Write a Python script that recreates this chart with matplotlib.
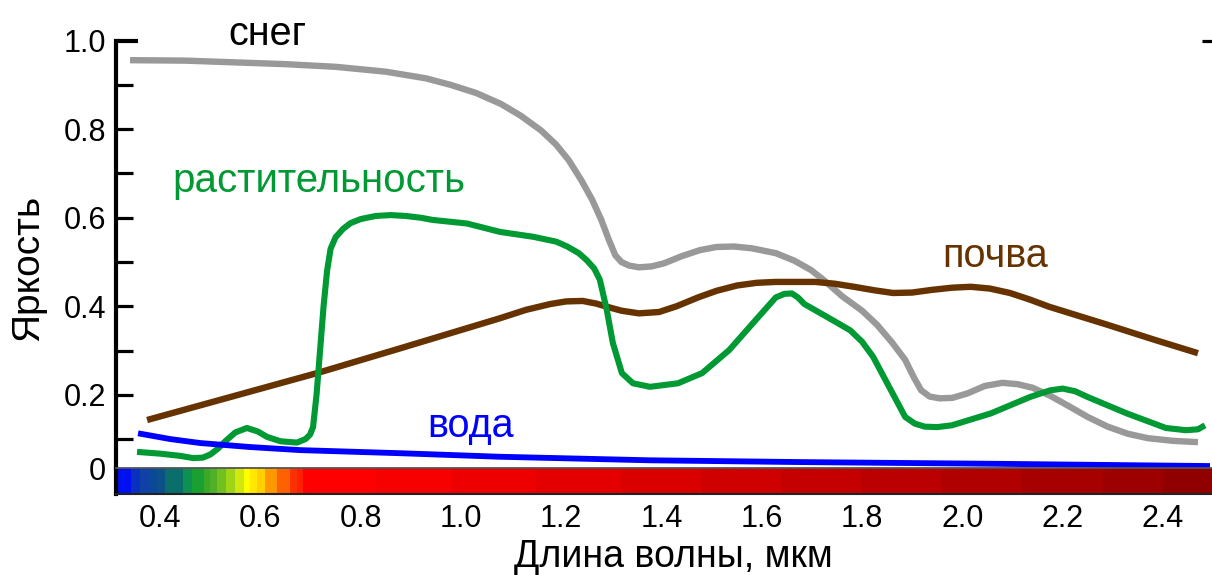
import numpy as np
import matplotlib
matplotlib.use("Agg")
import matplotlib.pyplot as plt
from matplotlib.colors import ListedColormap, BoundaryNorm

plt.rcParams["font.family"] = ["Liberation Sans", "DejaVu Sans"]

# Spectral reflectance curves: wavelength (µm) and reflectance
snow_wl = [0.340, 0.450, 0.550, 0.650, 0.750, 0.850, 0.930, 0.980, 1.030, 1.080,
           1.120, 1.160, 1.190, 1.215, 1.240, 1.262, 1.280, 1.295, 1.308, 1.320,
           1.335, 1.355, 1.380, 1.405, 1.440, 1.477, 1.510, 1.545, 1.580, 1.628,
           1.665, 1.698, 1.725, 1.760, 1.800, 1.830, 1.860, 1.886, 1.903, 1.918,
           1.935, 1.955, 1.980, 2.010, 2.045, 2.080, 2.110, 2.140, 2.175, 2.213,
           2.250, 2.290, 2.330, 2.370, 2.420, 2.470]
snow_refl = [0.956, 0.955, 0.951, 0.947, 0.941, 0.930, 0.915, 0.900, 0.882, 0.857,
             0.830, 0.797, 0.765, 0.730, 0.685, 0.640, 0.595, 0.550, 0.515, 0.500,
             0.492, 0.488, 0.490, 0.497, 0.513, 0.527, 0.534, 0.535, 0.531, 0.520,
             0.503, 0.482, 0.458, 0.423, 0.390, 0.358, 0.318, 0.279, 0.240, 0.210,
             0.196, 0.192, 0.193, 0.203, 0.220, 0.227, 0.224, 0.216, 0.198, 0.174,
             0.150, 0.128, 0.112, 0.102, 0.096, 0.093]

veg_wl = [0.354, 0.400, 0.440, 0.466, 0.485, 0.500, 0.515, 0.530, 0.550, 0.573,
          0.595, 0.613, 0.640, 0.673, 0.690, 0.699, 0.705, 0.712, 0.719, 0.726,
          0.733, 0.740, 0.750, 0.765, 0.780, 0.800, 0.830, 0.860, 0.890, 0.920,
          0.944, 1.012, 1.078, 1.144, 1.190, 1.212, 1.235, 1.251, 1.266, 1.277,
          1.291, 1.303, 1.321, 1.343, 1.377, 1.433, 1.481, 1.535, 1.588, 1.628,
          1.645, 1.660, 1.672, 1.685, 1.730, 1.776, 1.800, 1.822, 1.854, 1.886,
          1.905, 1.925, 1.950, 1.979, 2.057, 2.135, 2.175, 2.200, 2.225, 2.250,
          2.328, 2.406, 2.446, 2.470, 2.484]
veg_refl = [0.071, 0.067, 0.062, 0.057, 0.058, 0.065, 0.078, 0.095, 0.115, 0.125,
            0.117, 0.105, 0.095, 0.092, 0.100, 0.110, 0.127, 0.200, 0.300, 0.400,
            0.480, 0.530, 0.556, 0.575, 0.588, 0.597, 0.604, 0.606, 0.604, 0.600,
            0.595, 0.587, 0.568, 0.557, 0.546, 0.535, 0.520, 0.504, 0.485, 0.460,
            0.391, 0.317, 0.249, 0.226, 0.218, 0.226, 0.249, 0.301, 0.369, 0.420,
            0.428, 0.429, 0.420, 0.405, 0.376, 0.346, 0.320, 0.286, 0.218, 0.150,
            0.135, 0.128, 0.127, 0.131, 0.158, 0.195, 0.210, 0.214, 0.208, 0.195,
            0.158, 0.125, 0.120, 0.122, 0.131]

soil_wl = [0.374, 0.713, 0.879, 1.078, 1.130, 1.178, 1.210, 1.243, 1.270, 1.291,
           1.320, 1.355, 1.395, 1.430, 1.473, 1.510, 1.551, 1.590, 1.628, 1.706,
           1.745, 1.784, 1.825, 1.862, 1.900, 1.939, 1.980, 2.017, 2.055, 2.095,
           2.135, 2.173, 2.290, 2.384, 2.470]
soil_refl = [0.143, 0.249, 0.305, 0.373, 0.392, 0.405, 0.411, 0.412, 0.406, 0.399,
             0.390, 0.384, 0.387, 0.400, 0.420, 0.435, 0.447, 0.453, 0.455, 0.455,
             0.451, 0.444, 0.436, 0.430, 0.431, 0.437, 0.442, 0.444, 0.440, 0.430,
             0.415, 0.399, 0.358, 0.324, 0.294]

water_wl = [0.356, 0.420, 0.480, 0.579, 0.679, 0.879, 1.078, 1.377, 1.676, 2.075, 2.494]
water_refl = [0.113, 0.100, 0.091, 0.082, 0.075, 0.068, 0.060, 0.052, 0.048, 0.044, 0.039]

# Spectrum strip under the plot: band edges (µm) and colours
band_edges = [0.312, 0.342, 0.360, 0.378, 0.394, 0.410, 0.446, 0.464, 0.488, 0.500,
              0.514, 0.532, 0.550, 0.567, 0.579, 0.593, 0.609, 0.633, 0.659, 0.673,
              0.685, 0.830, 0.980, 1.150, 1.320, 1.480, 1.640, 1.800, 1.960, 2.120,
              2.280, 2.400, 2.500]
band_colors = ["#0010F0", "#0A30C0", "#1040A8", "#0A4898", "#0C5088", "#0A6E6A",
               "#109050", "#18A030", "#3CA828", "#50B028", "#70C020", "#A0D418",
               "#D0E810", "#FFFF00", "#FFE800", "#FFD000", "#FF9800", "#FF6000",
               "#FF3000", "#FF2000", "#FF0000", "#F60000", "#EE0000", "#E40000",
               "#DA0000", "#CE0000", "#C40000", "#BA0000", "#B00000", "#A60000",
               "#9C0000", "#900000"]

x_ticks = [0.4, 0.6, 0.8, 1.0, 1.2, 1.4, 1.6, 1.8, 2.0, 2.2, 2.4]
x_tick_labels = ["0.4", "0.6", "0.8", "1.0", "1.2", "1.4", "1.6", "1.8", "2.0", "2.2", "2.4"]
y_ticks = [0.2, 0.4, 0.6, 0.8, 1.0]
y_tick_labels = ["0.2", "0.4", "0.6", "0.8", "1.0"]
y_minor = [0.1, 0.3, 0.5, 0.7, 0.9]

W, H = 1212, 575
X0, X1 = 0.312, 2.498
Y0, Y1 = 0.0346, 1.0

fig = plt.figure(figsize=(W / 100, H / 100), dpi=100)
ax = fig.add_axes([116 / W, 1 - 468 / H, 1096 / W, (468 - 40.7) / H])
axb = fig.add_axes([116 / W, 1 - 494 / H, 1096 / W, 26 / H])

kw = dict(solid_capstyle="butt", solid_joinstyle="round")
ax.plot(snow_wl, snow_refl, color="#999999", lw=4.6, **kw)
ax.plot(soil_wl, soil_refl, color="#663300", lw=4.6, **kw)
ax.plot(veg_wl, veg_refl, color="#009933", lw=4.4, **kw)
ax.plot(water_wl, water_refl, color="#0000FF", lw=4.2, **kw)

ax.set_xlim(X0, X1)
ax.set_ylim(Y0, Y1)
for s in ("top", "right", "bottom"):
    ax.spines[s].set_visible(False)
ax.spines["left"].set_linewidth(3.0)
ax.spines["left"].set_color("black")
ax.set_xticks([])
ax.set_yticks([Y0] + y_ticks, labels=["0"] + y_tick_labels)
ax.set_yticks(y_minor, minor=True)
ax.tick_params(axis="y", which="both", direction="in", length=12, width=2.3,
               color="black", labelsize=22, pad=7)
majors = ax.yaxis.get_major_ticks()
majors[0].tick1line.set_visible(False)
majors[-1].tick1line.set_markersize(16)
majors[-1].tick1line.set_markeredgewidth(3.0)
majors[-1].tick2line.set_visible(True)
majors[-1].tick2line.set_markersize(7)
majors[-1].tick2line.set_markeredgewidth(2.3)

# Curve names
ax.text(0.536, 0.99, "снег", color="black", fontsize=28.5, va="baseline", clip_on=False)
ax.text(0.424, 0.658, "растительность", color="#009933", fontsize=29, va="baseline")
ax.text(0.932, 0.104, "вода", color="#0000FF", fontsize=28.5, va="baseline")
ax.text(1.959, 0.489, "почва", color="#663300", fontsize=28.5, va="baseline")

fig.text(28 / W, 1 - 268 / H, "Яркость", fontsize=28, rotation=90,
         ha="center", va="center")

# Spectrum strip
cmap = ListedColormap(band_colors)
norm = BoundaryNorm(np.arange(len(band_colors) + 1) - 0.5, cmap.N)
axb.pcolormesh(band_edges, [0, 1], np.arange(len(band_colors))[None, :],
               cmap=cmap, norm=norm, shading="flat")
axb.set_xlim(X0, X1)
axb.set_ylim(0, 1)
axb.set_yticks([])
axb.spines["right"].set_visible(False)
axb.spines["top"].set_color("#555555")
axb.spines["top"].set_linewidth(1.3)
axb.spines["bottom"].set_color("#222222")
axb.spines["bottom"].set_linewidth(1.5)
axb.spines["left"].set_color("black")
axb.spines["left"].set_linewidth(3.0)
axb.set_xticks(x_ticks, labels=x_tick_labels)
axb.tick_params(axis="x", length=0, labelsize=22, pad=7)

fig.text(673 / W, 1 - 557 / H, "Длина волны, мкм", fontsize=27, ha="center", va="center")

fig.savefig("out.png", dpi=100)
